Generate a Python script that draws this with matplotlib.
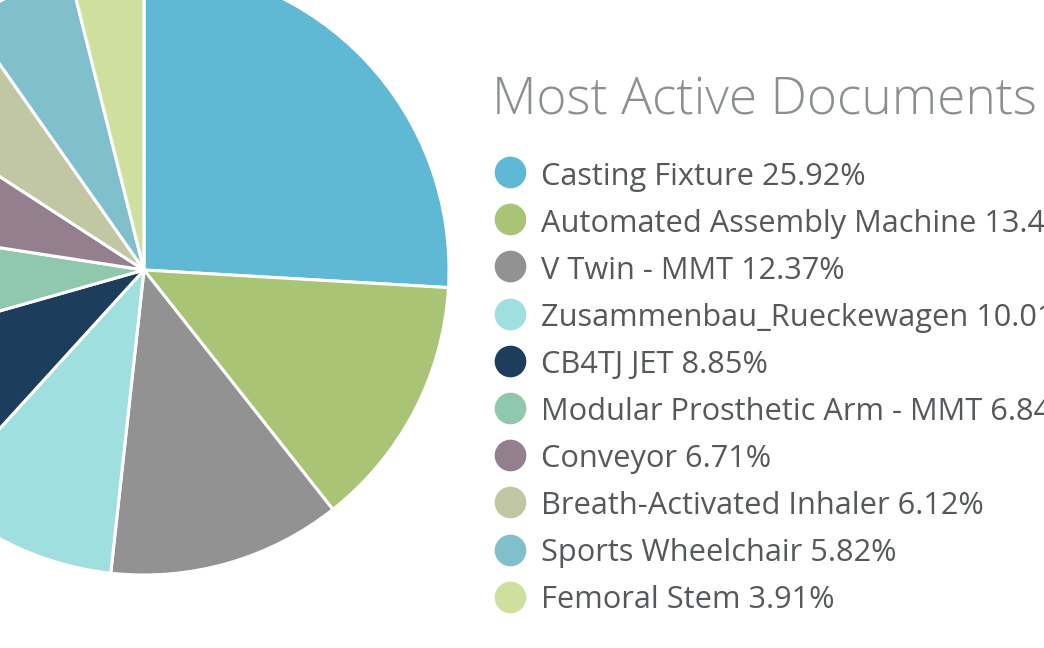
import matplotlib
matplotlib.use("Agg")
import matplotlib.pyplot as plt

plt.rcParams["font.family"] = ["Open Sans", "DejaVu Sans"]

TITLE = "Most Active Documents"
DOCS = ["Casting Fixture", "Automated Assembly Machine", "V Twin - MMT",
        "Zusammenbau_Rueckewagen", "CB4TJ JET", "Modular Prosthetic Arm - MMT",
        "Conveyor", "Breath-Activated Inhaler", "Sports Wheelchair", "Femoral Stem"]
SHARES = [25.92, 13.45, 12.37, 10.01, 8.85, 6.84, 6.71, 6.12, 5.82, 3.91]
COLORS = ["#5fb8d4", "#a9c474", "#929292", "#9fdfe0", "#1c3d5c",
          "#90c8ae", "#937f8e", "#c2c7a3", "#7fc0cc", "#cfe09e"]

W, H = 1044, 648
fig = plt.figure(figsize=(W / 100, H / 100), dpi=100)
ax = fig.add_axes([0, 0, 1, 1])

# y axis is flipped to pixel coords, so counterclock here reads clockwise on screen
ax.pie(SHARES, colors=COLORS, center=(144, 270), radius=305, startangle=-90,
       counterclock=True, wedgeprops={"edgecolor": "white", "linewidth": 2.2})

ax.set_xlim(0, W)
ax.set_ylim(H, 0)
ax.set_aspect("auto")
ax.axis("off")

ax.text(492, 101, TITLE, fontsize=37, color="#8a8f8f", va="center", ha="left",
        fontweight="light")

for i, (doc, share, col) in enumerate(zip(DOCS, SHARES, COLORS)):
    y = 172 + i * 47.2
    ax.scatter([510], [y], s=520, color=col, linewidths=0, clip_on=False)
    ax.text(541, 176.5 + i * 47.05, f"{doc} {share:.2f}%", fontsize=22.15,
            color="#55595b", va="center", ha="left")

fig.savefig("out.png", dpi=100)
